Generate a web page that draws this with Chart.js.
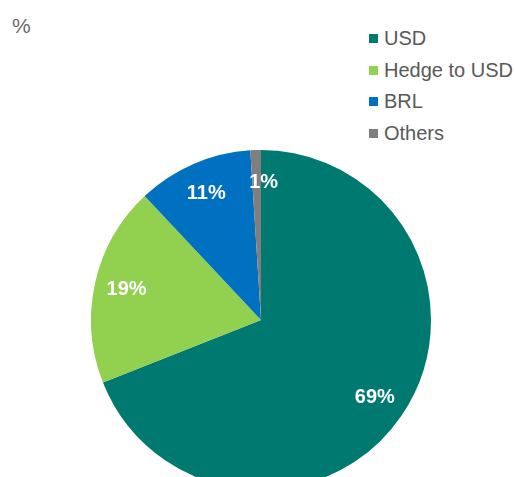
<!DOCTYPE html>
<html>
<head>
<meta charset="utf-8">
<script src="https://cdn.jsdelivr.net/npm/chart.js@4.4.1/dist/chart.umd.min.js"></script>
<style>
  html, body { margin: 0; padding: 0; background: #fff; overflow: hidden; }
  body { width: 515px; height: 477px; position: relative; font-family: "Liberation Sans", Arial, sans-serif; }
  #unit { position: absolute; left: 12px; top: 14px; font-size: 21px; line-height: 24px; color: #6b6b6b; }
  #legend { position: absolute; left: 369px; top: 28px; }
  .item { height: 31.7px; font-size: 20px; line-height: 20px; color: #595959; display: flex; align-items: flex-start; white-space: nowrap; }
  .box { width: 9px; height: 9px; margin-right: 6px; margin-top: 6px; }
  #wrap { position: absolute; left: 91px; top: 150px; width: 340px; height: 340px; }
</style>
</head>
<body>
<div id="unit">%</div>
<div id="legend"></div>
<div id="wrap"><canvas id="chart" width="340" height="340"></canvas></div>
<script>
const labels = ["USD", "Hedge to USD", "BRL", "Others"];
const values = [69, 19, 11, 1];
const colors = ["#007A70", "#92D050", "#0070C0", "#7F7F7F"];

// legend as html
const legend = document.getElementById("legend");
labels.forEach((l, i) => {
  const row = document.createElement("div");
  row.className = "item";
  row.innerHTML = `<span class="box" style="background:${colors[i]}"></span><span>${l}</span>`;
  legend.appendChild(row);
});

const pctLabels = {
  id: "pctLabels",
  afterDatasetsDraw(chart) {
    const ctx = chart.ctx;
    const meta = chart.getDatasetMeta(0);
    ctx.save();
    ctx.fillStyle = "#fff";
    ctx.font = "bold 20px 'Liberation Sans', Arial, sans-serif";
    ctx.textAlign = "center";
    ctx.textBaseline = "middle";
    meta.data.forEach((arc, i) => {
      const mid = (arc.startAngle + arc.endAngle) / 2;
      const r = arc.outerRadius * 0.81;
      let x = arc.x + Math.cos(mid) * r;
      let y = arc.y + Math.sin(mid) * r;
      if (values[i] < 3) x += 7;
      ctx.fillText(values[i] + "%", x, y);
    });
    ctx.restore();
  }
};

const Charts = new Chart("chart", {
  type: "pie",
  data: {
    labels: labels,
    datasets: [{
      data: values,
      backgroundColor: colors,
      borderWidth: 0
    }]
  },
  options: {
    responsive: false,
    animation: false,
    layout: { padding: 0 },
    plugins: {
      legend: { display: false },
      tooltip: { enabled: false }
    }
  },
  plugins: [pctLabels]
});
</script>
</body>
</html>
